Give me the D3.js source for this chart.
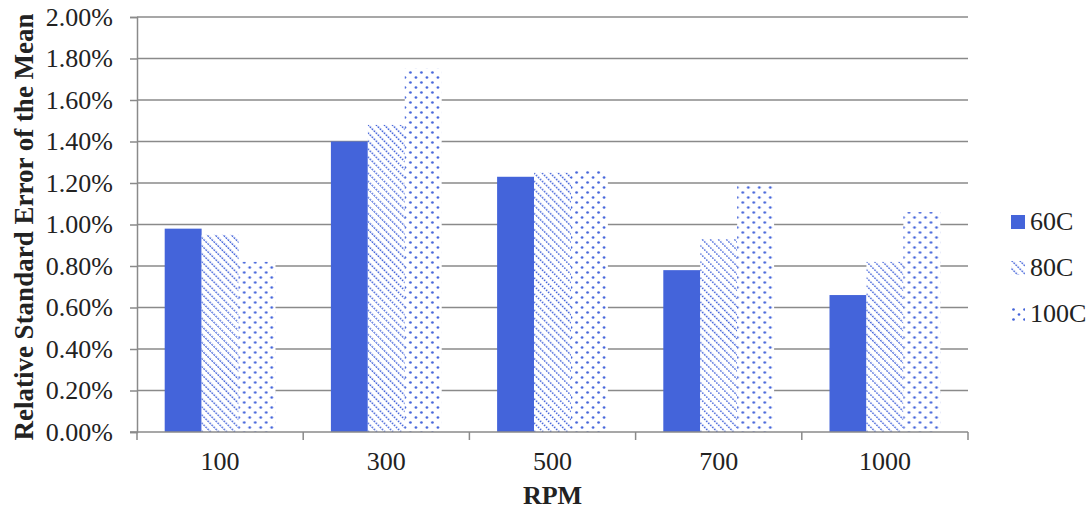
<!DOCTYPE html>
<html lang="en">
<head>
<meta charset="utf-8">
<style>
    body { margin: 0; background: #fff; }
    text { font-family: "Liberation Serif", "Times New Roman", serif; fill: #222; }
</style>
<script src="https://cdn.jsdelivr.net/npm/d3@7"></script>
</head>
<body>
<script>
    let categories = ["100", "300", "500", "700", "1000"];
    let seriesNames = ["60C", "80C", "100C"];
    let values60 = [0.98, 1.40, 1.23, 0.78, 0.66];
    let values80 = [0.95, 1.48, 1.25, 0.93, 0.82];
    let values100 = [0.82, 1.75, 1.26, 1.19, 1.06];
    let yTicks = [0, 0.2, 0.4, 0.6, 0.8, 1.0, 1.2, 1.4, 1.6, 1.8, 2.0];

    let w = 1091, h = 515;
    let plotLeft = 137, plotRight = 968, plotTop = 17, plotBottom = 432;
    let blue = "#4464da";

    let svg = d3.select("body").append("svg")
        .attr("width", w)
        .attr("height", h);

    // fill patterns (white ground so gridlines stay hidden behind bars)
    let defs = svg.append("defs");
    let diag = defs.append("pattern")
        .attr("id", "diag")
        .attr("patternUnits", "userSpaceOnUse")
        .attr("width", 5.7).attr("height", 5.7)
        .attr("patternTransform", "rotate(-45)");
    diag.append("rect").attr("width", 5.7).attr("height", 5.7).attr("fill", "#fff");
    diag.append("line")
        .attr("x1", 0).attr("y1", 0).attr("x2", 0).attr("y2", 5.7)
        .attr("stroke", blue).attr("stroke-width", 2.6)
        .attr("stroke-dasharray", "2,0.85");

    let dots = defs.append("pattern")
        .attr("id", "dots")
        .attr("patternUnits", "userSpaceOnUse")
        .attr("width", 11).attr("height", 10);
    dots.append("rect").attr("width", 11).attr("height", 10).attr("fill", "#fff");
    dots.append("circle").attr("cx", 2.5).attr("cy", 2.5).attr("r", 1.35).attr("fill", blue);
    dots.append("circle").attr("cx", 8).attr("cy", 7.5).attr("r", 1.35).attr("fill", blue);

    let fills = [blue, "url(#diag)", "url(#dots)"];

    let x0 = d3.scaleBand().domain(categories).range([plotLeft, plotRight]).paddingInner(0).paddingOuter(0);
    // gap of 150% of a bar width split on both sides of the group
    let barW = x0.bandwidth() / 4.5;
    let y = d3.scaleLinear().domain([0, 2]).range([plotBottom, plotTop]);

    // gridlines
    svg.append("g").selectAll("line")
        .data(yTicks.slice(1))
        .enter().append("line")
        .attr("x1", plotLeft).attr("x2", plotRight)
        .attr("y1", d => y(d)).attr("y2", d => y(d))
        .attr("stroke", "#8a8a8a").attr("stroke-width", 1.5);

    // bars
    let table = categories.map((c, i) => ({cat: c, vals: [values60[i], values80[i], values100[i]]}));
    let groups = svg.append("g").selectAll("g")
        .data(table)
        .enter().append("g")
        .attr("transform", d => "translate(" + (x0(d.cat) + barW * 0.75) + ",0)");
    groups.selectAll("rect")
        .data(d => d.vals)
        .enter().append("rect")
        .attr("x", (d, i) => i * barW)
        .attr("y", d => y(d))
        .attr("width", barW)
        .attr("height", d => plotBottom - y(d))
        .attr("fill", (d, i) => fills[i]);

    // axes
    let yAxis = d3.axisLeft(y).tickValues(yTicks).tickSize(7).tickPadding(17)
        .tickFormat(d => d.toFixed(2) + "%");
    let gy = svg.append("g").attr("transform", "translate(" + plotLeft + ",0)").call(yAxis);
    gy.select(".domain").attr("stroke", "#8a8a8a").attr("stroke-width", 1.5);
    gy.selectAll(".tick line").attr("stroke", "#8a8a8a").attr("stroke-width", 1.5);
    gy.selectAll("text").style("font-size", "26px").attr("fill", "#222");

    let xAxis = d3.axisBottom(x0).tickSize(0).tickPadding(20);
    let gx = svg.append("g").attr("transform", "translate(0," + plotBottom + ")").call(xAxis);
    gx.select(".domain").remove();
    gx.append("line").attr("x1", plotLeft - 7).attr("x2", plotRight).attr("y1", 0).attr("y2", 0)
        .attr("stroke", "#8a8a8a").attr("stroke-width", 1.5);
    gx.selectAll(".sep")
        .data(categories.map(c => x0(c)).concat([plotRight]))
        .enter().append("line")
        .attr("x1", d => d).attr("x2", d => d).attr("y1", 0).attr("y2", 8)
        .attr("stroke", "#8a8a8a").attr("stroke-width", 1.5);
    gx.selectAll("text").style("font-size", "26px").attr("fill", "#222");

    // axis titles
    svg.append("text")
        .attr("x", (plotLeft + plotRight) / 2).attr("y", 504)
        .attr("text-anchor", "middle")
        .style("font-size", "26px").style("font-weight", "bold")
        .text("RPM");

    svg.append("text")
        .attr("transform", "translate(33,227) rotate(-90)")
        .attr("text-anchor", "middle")
        .style("font-size", "27px").style("font-weight", "bold")
        .text("Relative Standard Error of the Mean");

    // legend
    let legend = svg.append("g").selectAll("g")
        .data(seriesNames)
        .enter().append("g")
        .attr("transform", (d, i) => "translate(1011," + (215 + i * 46) + ")");
    legend.append("rect")
        .attr("width", 14).attr("height", 14)
        .attr("fill", (d, i) => fills[i]);
    legend.append("text")
        .attr("x", 19).attr("y", 15)
        .style("font-size", "26px")
        .text(d => d);
</script>
</body>
</html>
